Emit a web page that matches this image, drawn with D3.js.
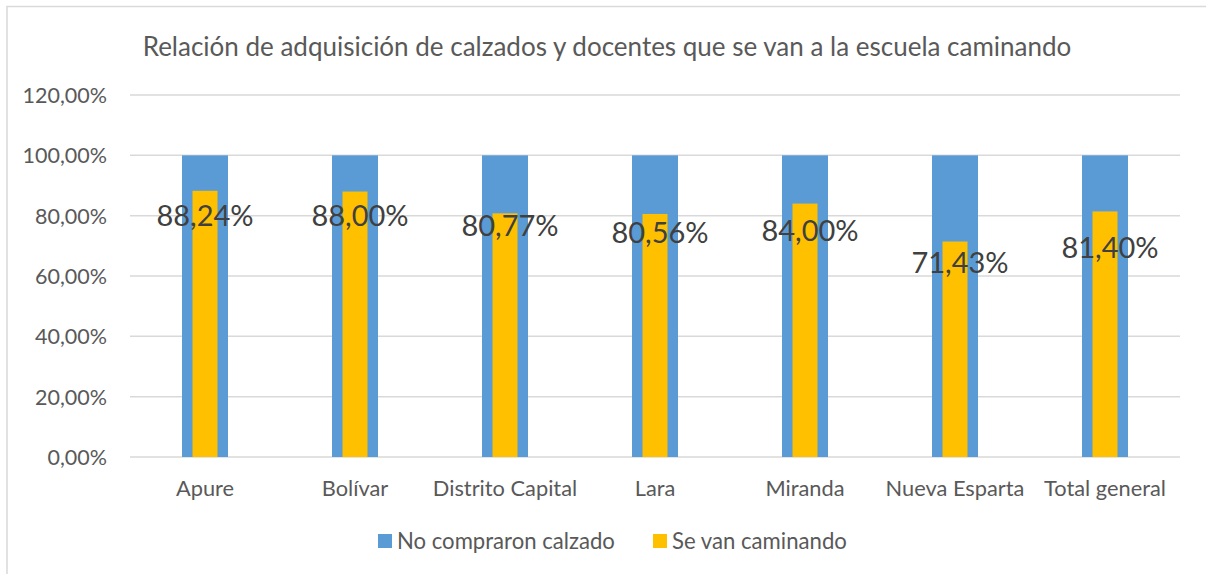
<!DOCTYPE html>
<html><head><meta charset="utf-8">
<script src="https://cdn.jsdelivr.net/npm/d3@7"></script>
<style>html,body{margin:0;padding:0;background:#fff;}svg{display:block;}</style>
</head><body>
<svg id="c" width="1206" height="574"></svg>
<script>
const title = "Relación de adquisición de calzados y docentes que se van a la escuela caminando";
const categories = ["Apure","Bolívar","Distrito Capital","Lara","Miranda","Nueva Esparta","Total general"];
const noCompraron = [100,100,100,100,100,100,100];
const seVanCaminando = [88.24,88.00,80.77,80.56,84.00,71.43,81.40];
const labelAt = [80.2,80.2,76.6,74.3,75.2,64.5,69.3];
const yTicks = [0,20,40,60,80,100,120];
const seriesNames = ["No compraron calzado","Se van caminando"];

const fmt = v => v.toFixed(2).replace(".", ",") + "%";
const svg = d3.select("#c");
const FONT = "Lato, 'Open Sans', sans-serif";

function fit(sel, target){
  const n = sel.node(); const w = n.getComputedTextLength();
  const fs = parseFloat(sel.attr("font-size"));
  sel.attr("font-size", fs*target/w);
}

// outer border
svg.append("rect").attr("x",7).attr("y",6.5).attr("width",1210).attr("height",600)
  .attr("fill","none").attr("stroke","#D9D9D9").attr("stroke-width",1.5);

const x = d3.scaleBand().domain(categories).range([130,1180]);
const y = d3.scaleLinear().domain([0,120]).range([457,95]);

// gridlines
svg.append("g").selectAll("line").data(yTicks).join("line")
  .attr("x1",130).attr("x2",1180).attr("y1",d=>y(d)).attr("y2",d=>y(d))
  .attr("stroke","#D9D9D9").attr("stroke-width",1.5);

// y axis labels
const yAxis = svg.append("g").attr("transform","translate(107,0)")
  .call(d3.axisLeft(y).tickValues(yTicks).tickFormat(fmt).tickSize(0).tickPadding(0));
yAxis.select(".domain").remove();
yAxis.selectAll("text").attr("font-family",FONT).attr("font-size",21.5).attr("fill","#595959").attr("dy","0.35em");

// x axis labels
const xAxis = svg.append("g").attr("transform","translate(0,457)")
  .call(d3.axisBottom(x).tickSize(0).tickPadding(0));
xAxis.select(".domain").remove();
xAxis.selectAll("text").attr("font-family",FONT).attr("font-size",21.8).attr("fill","#595959").attr("y",31).attr("dy","0.35em");

const bw = x.bandwidth();
// blue bars
svg.append("g").selectAll("rect").data(categories).join("rect")
  .attr("x",(d)=>x(d)+bw/2-23).attr("width",46)
  .attr("y",(d,i)=>y(noCompraron[i])).attr("height",(d,i)=>y(0)-y(noCompraron[i]))
  .attr("fill","#5B9BD5");
// yellow bars
svg.append("g").selectAll("rect").data(categories).join("rect")
  .attr("x",(d)=>x(d)+bw/2-12.5).attr("width",25)
  .attr("y",(d,i)=>y(seVanCaminando[i])).attr("height",(d,i)=>y(0)-y(seVanCaminando[i]))
  .attr("fill","#FFC000");

// data labels
svg.append("g").selectAll("text").data(categories).join("text")
  .attr("x",(d,i)=>x(d)+bw/2+(i===0?0:5)).attr("y",(d,i)=>y(labelAt[i]))
  .attr("dy","0.36em").attr("text-anchor","middle")
  .attr("font-family",FONT).attr("font-size",29).attr("fill","#404040")
  .text((d,i)=>fmt(seVanCaminando[i]));

// title
const t = svg.append("text").attr("x",607).attr("y",47).attr("dy","0.35em").attr("text-anchor","middle")
  .attr("font-family",FONT).attr("font-size",22).attr("fill","#595959").text(title);
fit(t, 929);

// legend
const leg = svg.append("g");
const legX = [378, 653];
const legW = [218, 175];
const legColors = ["#5B9BD5","#FFC000"];
seriesNames.forEach((n,i)=>{
  leg.append("rect").attr("x",legX[i]).attr("y",534).attr("width",14).attr("height",14).attr("fill",legColors[i]);
  const tx = leg.append("text").attr("x",legX[i]+19).attr("y",541).attr("dy","0.35em")
    .attr("font-family",FONT).attr("font-size",21).attr("fill","#595959").text(n);
  fit(tx, legW[i]);
});
</script>
</body></html>
